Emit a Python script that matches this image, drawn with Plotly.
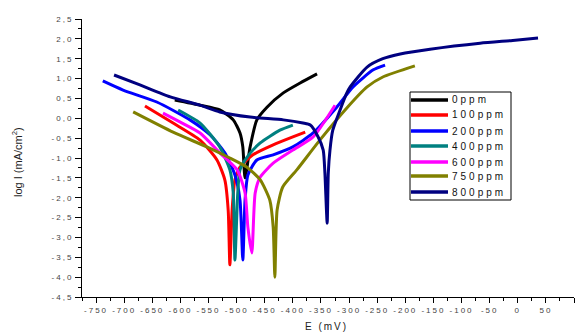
import plotly.graph_objects as go

# ---------------- data ----------------
names = ["0ppm", "100ppm", "200ppm", "400ppm", "600ppm", "750ppm", "800ppm"]
colors = ["#000000", "#FF0000", "#0000FF", "#008080", "#FF00FF", "#808000", "#000080"]

e_0 = [-610, -565, -530, -506, -494, -489, -485, -476, -464, -446, -417, -387, -357]
logi_0 = [0.46, 0.33, 0.21, -0.04, -0.37, -0.72, -1.50, -0.72, -0.04, 0.28, 0.64, 0.89, 1.12]

e_100 = [-663, -613, -565, -535, -521, -515, -512, -508, -503, -494, -471, -435, -400, -378]
logi_100 = [0.31, -0.12, -0.55, -1.05, -1.55, -2.31, -3.69, -2.31, -1.55, -1.23, -0.92, -0.67, -0.47, -0.35]

e_200 = [-738, -702, -642, -583, -547, -521, -503, -494, -489, -485, -480, -464, -435, -400, -364, -322, -293, -257, -236]
logi_200 = [0.94, 0.71, 0.41, -0.04, -0.42, -0.87, -1.43, -2.06, -3.57, -2.06, -1.43, -1.05, -0.92, -0.72, -0.37, 0.28, 0.79, 1.22, 1.34]

e_400 = [-604, -565, -530, -512, -506, -503, -498, -494, -481, -458, -423, -400]
logi_400 = [0.21, -0.12, -0.72, -1.30, -1.88, -3.57, -1.88, -1.30, -0.97, -0.62, -0.30, -0.17]

e_600 = [-631, -601, -565, -530, -499, -485, -480, -473, -467, -458, -435, -400, -364, -325]
logi_600 = [0.13, -0.09, -0.37, -0.87, -1.30, -1.88, -2.74, -3.39, -1.88, -1.48, -1.13, -0.80, -0.47, 0.33]

e_750 = [-684, -613, -553, -512, -482, -458, -441, -435, -432, -428, -418, -393, -352, -304, -268, -240, -183]
logi_750 = [0.16, -0.35, -0.72, -1.00, -1.23, -1.55, -2.06, -2.74, -4.00, -2.31, -1.73, -1.30, -0.55, 0.26, 0.79, 1.04, 1.32]

e_800 = [-718, -672, -618, -565, -530, -476, -417, -382, -369, -355, -346, -343, -339, -337, -334, -329, -316, -304, -298, -268, -240, -209, -156, -67, -9, 36]
logi_800 = [1.09, 0.84, 0.54, 0.33, 0.16, 0.03, -0.04, -0.12, -0.17, -0.47, -0.80, -1.38, -2.64, -1.38, -0.80, -0.30, 0.21, 0.64, 0.79, 1.29, 1.50, 1.62, 1.74, 1.89, 1.96, 2.02]

x_ticks = list(range(-750, 101, 50))
y_ticks = [2.5, 2.0, 1.5, 1.0, 0.5, 0.0, -0.5, -1.0, -1.5, -2.0, -2.5, -3.0, -3.5, -4.0, -4.5]
y_tick_labels = ["2,5", "2,0", "1,5", "1,0", "0,5", "0,0", "-0,5", "-1,0", "-1,5",
                 "-2,0", "-2,5", "-3,0", "-3,5", "-4,0", "-4,5"]

series_e = [e_0, e_100, e_200, e_400, e_600, e_750, e_800]
series_logi = [logi_0, logi_100, logi_200, logi_400, logi_600, logi_750, logi_800]

# ---------------- figure ----------------
W, H = 582, 333
L, R, T, B = 82, 8, 19, 36
fig = go.Figure()

for nm, col, xs, ys in zip(names, colors, series_e, series_logi):
    fig.add_trace(go.Scatter(x=xs, y=ys, mode="lines", name=nm,
                             line=dict(color=col, width=3, shape="spline", smoothing=0.6),
                             showlegend=False))

def sp(t):
    return '<span style="letter-spacing:2px">' + t + '</span>'

tickfont = dict(family="Liberation Sans, Arial", size=8, color="#444444")

fig.update_layout(
    width=W, height=H,
    margin=dict(l=L, r=R, t=T, b=B),
    paper_bgcolor="white", plot_bgcolor="white",
    font=dict(family="Liberation Sans, Arial", color="#222222"),
    xaxis=dict(range=[-775, 100], showline=True, linecolor="black", linewidth=1,
               ticks="outside", ticklen=5, tickcolor="black", tickwidth=1,
               tickvals=x_ticks, ticktext=[sp(str(v)) for v in x_ticks],
               tickfont=tickfont, showgrid=False, zeroline=False,
               minor=dict(dtick=25, tick0=0, ticks="outside", ticklen=3, tickcolor="black", showgrid=False)),
    yaxis=dict(range=[-4.5, 2.5], showline=True, linecolor="black", linewidth=1,
               ticks="outside", ticklen=6, tickcolor="black", tickwidth=1,
               tickvals=y_ticks, ticktext=[sp(t) for t in y_tick_labels],
               tickfont=tickfont, showgrid=False, zeroline=False,
               minor=dict(dtick=0.25, tick0=0, ticks="outside", ticklen=3, tickcolor="black", showgrid=False)),
)

pw, ph = W - L - R, H - T - B
def px2x(px):
    return (px - L) / pw
def py2y(py):
    return (H - B - py) / ph

# axis titles
fig.add_annotation(x=px2x(326), y=py2y(326), xref="paper", yref="paper",
                   xanchor="center", yanchor="middle",
                   text='<span style="letter-spacing:2px">E (mV)</span>', showarrow=False,
                   font=dict(size=10, color="#222222"))
fig.add_annotation(x=px2x(17), y=py2y(162), xref="paper", yref="paper",
                   xanchor="center", yanchor="middle",
                   text="log I (mA/cm<sup>2</sup>)", showarrow=False, textangle=-90,
                   font=dict(size=11, color="#222222"))

# manual legend
fig.add_shape(type="rect", xref="paper", yref="paper",
              x0=px2x(410), x1=px2x(511), y0=py2y(200), y1=py2y(92),
              line=dict(color="black", width=1), fillcolor="white", layer="above")
rows = [100, 115, 131, 146, 162, 176, 192]
for nm, col, ry in zip(names, colors, rows):
    fig.add_shape(type="line", xref="paper", yref="paper",
                  x0=px2x(411), x1=px2x(448), y0=py2y(ry), y1=py2y(ry),
                  line=dict(color=col, width=3.5), layer="above")
    fig.add_annotation(x=px2x(450), y=py2y(ry), xref="paper", yref="paper",
                       xanchor="left", yanchor="middle", showarrow=False,
                       text='<span style="letter-spacing:3px">' + nm + '</span>',
                       font=dict(size=10, color="#111111"))

fig.write_html("out.html")
